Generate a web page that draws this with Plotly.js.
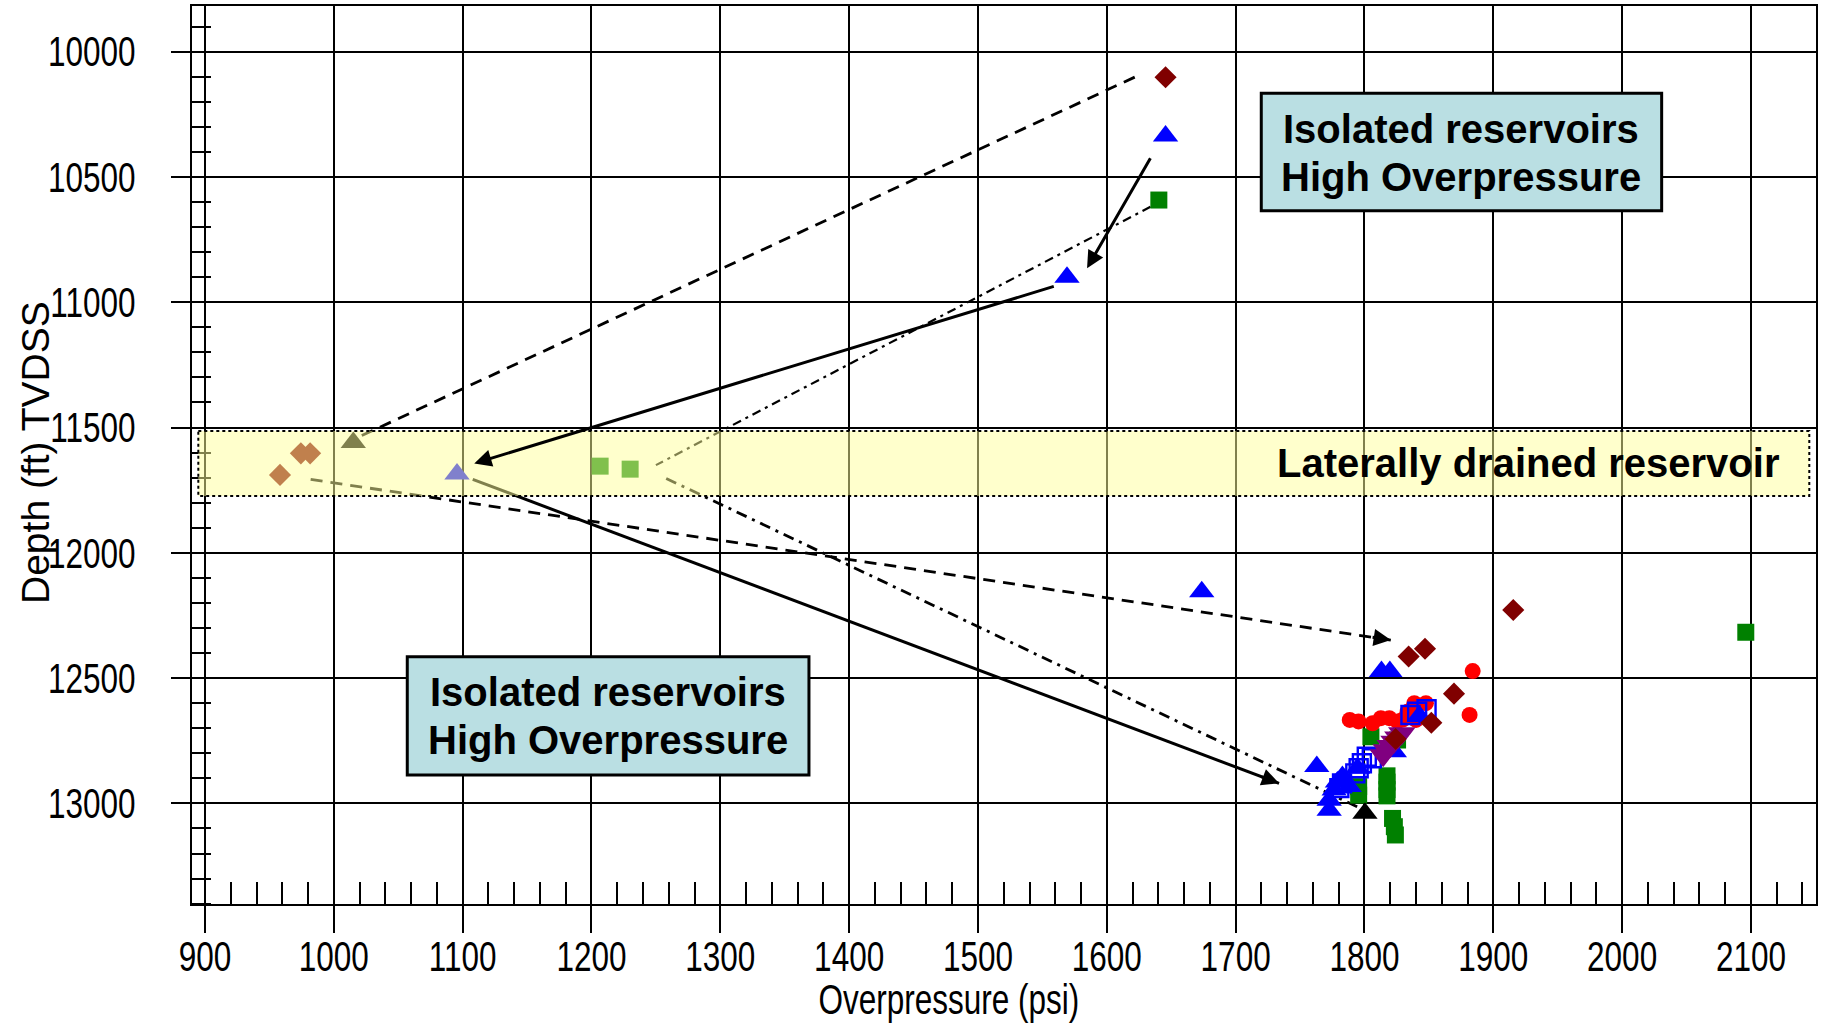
<!DOCTYPE html>
<html><head><meta charset="utf-8">
<script src="https://cdn.plot.ly/plotly-3.0.1.min.js"></script>
<style>html,body{margin:0;padding:0;background:#fff}</style>
</head><body><div id="chart" style="width:1826px;height:1031px"></div>
<script>
// ---- data (psi, depth ft TVDSS) ----
const blueTriX = [1645.6, 1569.1, 1095.6, 1673.7, 1813.2, 1819.7, 1842.6, 1763.0, 1794.6, 1782.9, 1788.2, 1776.5, 1772.6, 1772.6, 1823.2, 1779.0];
const blueTriY = [10336, 10900, 11685, 12155, 12474, 12474, 12650, 12853, 12860, 12893, 12933, 12947, 12987, 13027, 12794, 12915];
const blackTriX = [1015.1, 1800.4];
const blackTriY = [11560, 13039];
const diamondX = [1645.6, 958.2, 974.4, 981.6, 1915.5, 1834.3, 1847.0, 1869.5, 1851.9, 1824.2];
const diamondY = [10102, 11689, 11603, 11603, 12228, 12414, 12383, 12562, 12678, 12743];
const greenSqX = [1640.4, 1206.7, 1230.0, 2096.0, 1805.0, 1825.7, 1817.5, 1817.5, 1817.5, 1817.5, 1795.5, 1795.5, 1821.8, 1823.2, 1824.0];
const greenSqY = [10592, 11654, 11666, 12317, 12734, 12747, 12890, 12915, 12945, 12970, 12933, 12967, 13060, 13093, 13126];
const redCircX = [1788.6, 1795.4, 1806.3, 1812.7, 1819.3, 1825.7, 1830.0, 1833.5, 1838.7, 1847.7, 1840.0, 1884.0, 1881.6];
const redCircY = [12667, 12673, 12680, 12660, 12660, 12673, 12665, 12634, 12600, 12600, 12667, 12472, 12647];
const openSqX = [1835.7, 1840.9, 1848.2, 1801.8, 1805.7, 1798.0, 1795.5, 1792.9, 1782.6, 1780.5];
const openSqY = [12647, 12634, 12624, 12814, 12820, 12840, 12860, 12880, 12920, 12939];
const purpleX = [1829.0, 1826.0, 1823.0, 1820.0, 1817.0, 1814.5];
const purpleY = [12720, 12737, 12754, 12771, 12788, 12808];

// connector lines [start, end]
const line1X = [1021.7, 1622.3], line1Y = [11532, 10100];   // dashed, no head
const line4X = [1633.9, 1250.0], line4Y = [10619, 11650];   // dash-dot, no head
const line5X = [1107.8, 1733.7], line5Y = [11707, 12920];   // solid, arrow
const line6X = [1258.0, 1801.0], line6Y = [11703, 13030];   // dash-dot
const line7X = [982.0, 1820.5],  line7Y = [11707, 12348];   // dashed, arrow
const arrow2X = [1560.0, 1109.0], arrow2Y = [10935, 11643]; // solid arrow
const arrow3X = [1634.5, 1584.7], arrow3Y = [10419, 10864]; // solid arrow

// text
const boxText = ["Isolated reservoirs", "High Overpressure"];
const bandText = "Laterally drained reservoir";
const xTitle = "Overpressure (psi)";
const yTitle = "Depth (ft) TVDSS";

// ---- layout geometry ----
const W = 1826, H = 1031;
const M = {l: 192, r: 10, t: 6, b: 127};
const xRange = [889.9, 2150.5];
const yRange = [13401.5, 9817.6];
const plotW = W - M.l - M.r, plotH = H - M.t - M.b;
const pxPerX = plotW / (xRange[1] - xRange[0]);
const pxPerY = plotH / (yRange[0] - yRange[1]);

const regular = '"Liberation Sans", Arial, sans-serif';
const SQUEEZE = 0.75;

function lineTrace(xs, ys, width, dash) {
  return {x: xs, y: ys, type: 'scatter', mode: 'lines', hoverinfo: 'skip',
    line: {color: '#000', width: width, dash: dash}};
}
function markerTrace(xs, ys, symbol, color, size, open) {
  const m = {symbol: symbol, size: size, color: color, line: {width: 0}};
  if (open) m.line = {color: color, width: 2.4};
  return {x: xs, y: ys, type: 'scatter', mode: 'markers', hoverinfo: 'skip', marker: m};
}

const traces = [
  lineTrace(line1X, line1Y, 2.8, '12px,8px'),
  lineTrace(line4X, line4Y, 2.2, '9px,5px,3px,5px'),
  lineTrace(line5X, line5Y, 3, 'solid'),
  lineTrace(line6X, line6Y, 2.8, '11px,6px,3px,6px'),
  lineTrace(line7X, line7Y, 2.8, '12px,8px'),
  markerTrace(greenSqX, greenSqY, 'square', '#008000', 17),
  markerTrace(redCircX, redCircY, 'circle', '#FF0000', 16),
  markerTrace(blueTriX, blueTriY, 'triangle-up', '#0000FF', 22),
  markerTrace(openSqX, openSqY, 'square-open', '#0000FF', 18, true),
  markerTrace(purpleX, purpleY, 'triangle-down', '#800080', 24),
  markerTrace(diamondX, diamondY, 'diamond', '#800000', 17),
  markerTrace(blackTriX, blackTriY, 'triangle-up', '#000000', 22)
];

function arrowAnn(xs, ys) {
  return {x: xs[1], y: ys[1], ax: xs[0], ay: ys[0], xref: 'x', yref: 'y', axref: 'x', ayref: 'y',
    text: '', showarrow: true, arrowhead: 2, arrowsize: 1.15, arrowwidth: 3, arrowcolor: '#000',
    standoff: 0, startstandoff: 0};
}
function headOnly(xs, ys) {
  const dxp = (xs[1] - xs[0]) * pxPerX, dyp = (ys[1] - ys[0]) * pxPerY;
  const len = Math.hypot(dxp, dyp);
  const back = 20;
  const ax = xs[1] - (dxp / len) * back / pxPerX;
  const ay = ys[1] - (dyp / len) * back / pxPerY;
  return arrowAnn([ax, xs[1]], [ay, ys[1]]);
}
function textAnn(txt, x, y, anchor) {
  return {x: x, y: y, xref: 'x', yref: 'y', text: '<b>' + txt + '</b>', showarrow: false,
    xanchor: anchor || 'center', yanchor: 'middle',
    font: {family: regular, size: 40, color: '#000'}};
}

const annotations = [
  arrowAnn(arrow2X, arrow2Y),
  arrowAnn(arrow3X, arrow3Y),
  headOnly(line5X, line5Y),
  headOnly(line7X, line7Y),
  textAnn(boxText[0], 1875.3, 10310),
  textAnn(boxText[1], 1875.3, 10500),
  textAnn(boxText[0], 1212.9, 12555),
  textAnn(boxText[1], 1212.9, 12747),
  textAnn(bandText, 2123, 11643, 'right'),
  {xref: 'paper', yref: 'paper', x: (949 - M.l) / plotW, y: 0, yshift: -95, xanchor: 'center', yanchor: 'middle',
   text: xTitle, showarrow: false, font: {family: regular, size: 42, color: '#000'}},
  {xref: 'paper', yref: 'paper', x: 0, xshift: -157, y: (H - M.b - 453) / plotH, xanchor: 'center', yanchor: 'middle',
   text: yTitle, textangle: -90, showarrow: false, font: {family: regular, size: 39, color: '#000'}}
];

const shapes = [
  {type: 'rect', xref: 'x', yref: 'y', x0: 894.8, x1: 2145.3, y0: 11514, y1: 11773, layer: 'above',
   fillcolor: 'rgba(255,255,153,0.5)', line: {color: '#000', width: 2, dash: 'dot'}},
  {type: 'rect', xref: 'x', yref: 'y', x0: 1719.9, x1: 2030.7, y0: 10165.6, y1: 10635, layer: 'above',
   fillcolor: '#BADFE3', line: {color: '#000', width: 3}},
  {type: 'rect', xref: 'x', yref: 'y', x0: 1057.0, x1: 1368.8, y0: 12414.6, y1: 12886.7, layer: 'above',
   fillcolor: '#BADFE3', line: {color: '#000', width: 3}}
];

const layout = {
  width: W, height: H, margin: M, showlegend: false, hovermode: false,
  paper_bgcolor: '#fff', plot_bgcolor: '#fff',
  xaxis: {range: xRange, tick0: 900, dtick: 100, tickformat: 'd', showgrid: true, gridcolor: '#000', gridwidth: 2,
    zeroline: false, showline: true, mirror: true, linecolor: '#000', linewidth: 2,
    ticks: 'outside', ticklen: 27, tickwidth: 2, tickcolor: '#000', ticklabelstandoff: -12,
    tickfont: {family: regular, size: 42, color: '#000'},
    minor: {dtick: 20, ticks: 'inside', ticklen: 22, tickwidth: 2, tickcolor: '#000', showgrid: false}},
  yaxis: {range: yRange, tick0: 10000, dtick: 500, tickformat: 'd', showgrid: true, gridcolor: '#000', gridwidth: 2,
    zeroline: false, showline: true, mirror: true, linecolor: '#000', linewidth: 2,
    ticks: 'outside', ticklen: 19, tickwidth: 2, tickcolor: '#000', ticklabelstandoff: 27,
    tickfont: {family: regular, size: 42, color: '#000'},
    minor: {dtick: 100, ticks: 'inside', ticklen: 19, tickwidth: 2, tickcolor: '#000', showgrid: false}},
  shapes: shapes,
  annotations: annotations
};

function squeeze(el, f) {
  const L = el.getComputedTextLength();
  if (L > 0) {
    el.setAttribute('textLength', (L * f).toFixed(1));
    el.setAttribute('lengthAdjust', 'spacingAndGlyphs');
  }
}

Plotly.newPlot('chart', traces, layout, {displayModeBar: false, staticPlot: true}).then(function (gd) {
  gd.querySelectorAll('.xtick text, .ytick text').forEach(function (t) { squeeze(t, SQUEEZE); });
  gd.querySelectorAll('.annotation-text').forEach(function (t) {
    if (t.textContent === xTitle) squeeze(t, 0.75);
  });
});
</script></body></html>
